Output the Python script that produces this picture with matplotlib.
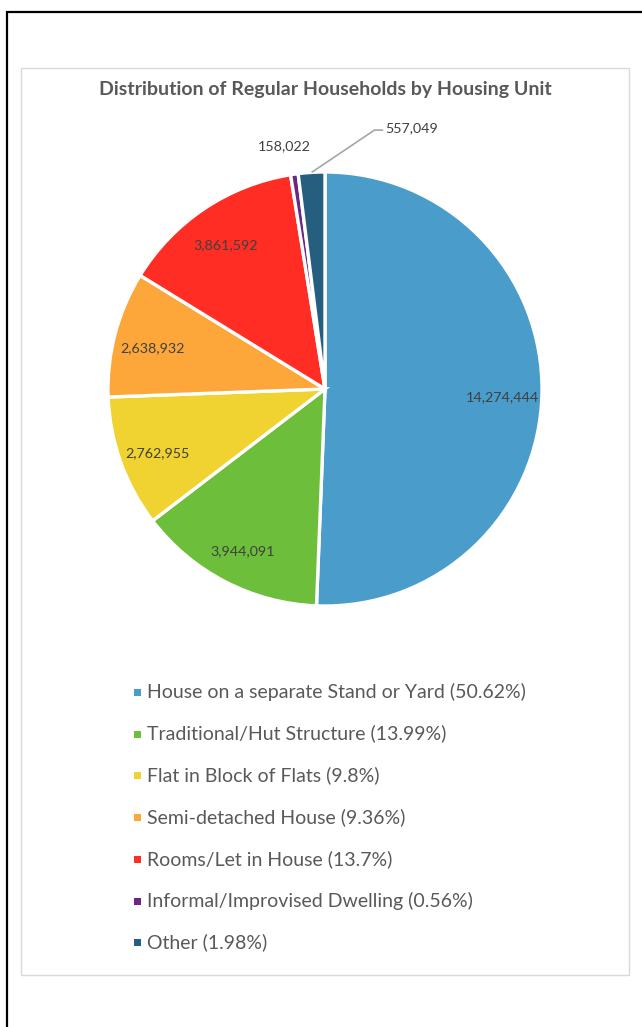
import numpy as np
from matplotlib import pyplot as plt
from matplotlib.patches import Rectangle

plt.rcParams['font.family'] = ['Lato', 'DejaVu Sans']

categories = ["House on a separate Stand or Yard", "Traditional/Hut Structure",
              "Flat in Block of Flats", "Semi-detached House", "Rooms/Let in House",
              "Informal/Improvised Dwelling", "Other"]
households = [14274444, 3944091, 2762955, 2638932, 3861592, 158022, 557049]
colors = ["#4A9CCA", "#6DBE3A", "#F0D230", "#FDA73B", "#FF2D23", "#6A2885", "#265E80"]

W, H = 642, 1027


def fx(px):
    return px / W


def fy(py):
    return 1 - py / H


def main():
    fig = plt.figure(figsize=(W / 100, H / 100), dpi=100)

    # outer black frame (only left/top visible) and light grey chart area
    fig.add_artist(Rectangle((fx(7), fy(1100)), fx(700), fy(12) - fy(1100),
                             transform=fig.transFigure, fill=False,
                             edgecolor="black", linewidth=1.6, zorder=-10))
    fig.add_artist(Rectangle((fx(21), fy(975)), fx(629) - fx(21), fy(68) - fy(975),
                             transform=fig.transFigure, facecolor="white",
                             edgecolor="#D9D9D9", linewidth=1.0, zorder=-9))

    fig.text(fx(325), fy(89), "Distribution of Regular Households by Housing Unit",
             ha="center", va="center", fontsize=14.0, fontweight="bold", color="#595959")

    # pie axes: center (325, 389), radius 217 px
    r = 217
    lim = 1.25
    ax = fig.add_axes([fx(325 - lim * r), fy(389 + lim * r), 2 * lim * r / W, 2 * lim * r / H])
    ax.set_xlim(-lim, lim)
    ax.set_ylim(-lim, lim)
    ax.set_aspect("equal")
    ax.axis("off")

    wedges, _ = ax.pie(households, colors=colors, startangle=90, counterclock=False,
                       wedgeprops=dict(edgecolor="white", linewidth=2.4))

    total = sum(households)
    for i, (w, v) in enumerate(zip(wedges, households)):
        ang = np.deg2rad((w.theta1 + w.theta2) / 2)
        label = f"{v:,}"
        if v / total > 0.03:
            ax.text(0.82 * np.cos(ang), 0.82 * np.sin(ang) - 0.02, label, ha="center", va="center",
                    fontsize=10.3, color="#404040")
        elif i == 5:
            ax.text(1.12 * np.cos(ang) - 0.03, 1.12 * np.sin(ang) + 0.01, label, ha="center",
                    va="center", fontsize=10.3, color="#404040")
        else:
            x0, y0 = 1.0 * np.cos(ang), 1.0 * np.sin(ang)
            x1, y1 = x0 + 0.29, y0 + 0.195
            x2 = x1 + 0.04
            ax.plot([x0, x1, x2], [y0, y1, y1], color="#A6A6A6", linewidth=1.2,
                    solid_capstyle="butt")
            ax.text(x2 + 0.01, y1 + 0.01, label, ha="left", va="center",
                    fontsize=10.3, color="#404040")

    # legend
    for i, (name, v, c) in enumerate(zip(categories, households, colors)):
        yy = 692 + i * 41.7
        pct = round(v / total * 100, 2)
        fig.add_artist(Rectangle((fx(134), fy(yy + 4)), fx(7), fy(yy - 3) - fy(yy + 4),
                                 transform=fig.transFigure, facecolor=c, edgecolor="none"))
        fig.text(fx(147), fy(yy), f"{name} ({pct:g}%)", ha="left", va="center",
                 fontsize=14.0, color="#595959")

    plt.savefig("out.png", dpi=100)


if __name__ == "__main__":
    main()
